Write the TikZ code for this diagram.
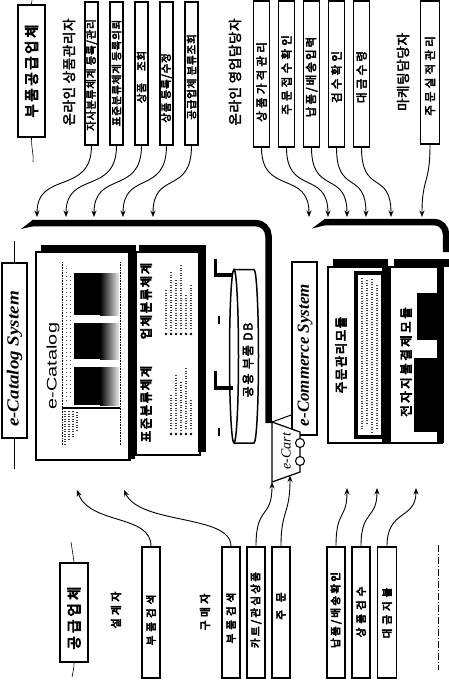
\documentclass[tikz,border=0pt]{standalone}
\usepackage{fontspec}
\usepackage{graphicx}
\setmainfont{Liberation Serif}
\newfontfamily\kr{Noto Sans CJK KR}[FakeBold=3]
\newfontfamily\krm{Noto Sans CJK KR}[FakeBold=4]
\newfontfamily\krb{Noto Sans CJK KR}[FakeBold=5.5]
\newfontfamily\arialf{Liberation Sans}
\usetikzlibrary{arrows.meta}
\newcommand\KS[2]{\fontsize{#1}{#1}\selectfont\addfontfeature{LetterSpace=#2}}
\tikzset{
  tb/.style={draw, line width=1.2pt, fill=white, inner sep=0pt},
  tbk/.style={draw, line width=1.8pt, fill=white, inner sep=0pt},
  lb/.style={draw, line width=2.4pt, fill=white, inner sep=0pt},
  vt/.style={rotate=90, inner sep=0pt},
  arr/.style={line width=0.9pt, -{Stealth[length=6.5pt,width=5pt]}},
  barline/.style={line width=6.5pt, rounded corners=13pt},
  thinl/.style={line width=0.6pt},
  dtx/.style={line width=1.2pt, dash pattern=on 1.2pt off 1.3pt, black!75},
  dts/.style={line width=1pt, dash pattern=on 1pt off 3pt, black!65},
  toptxt/.style={vt, font=\krm\KS{10.5}{8}},
  rtxt/.style={vt, font=\krm\KS{11.5}{28}},
  btxt/.style={vt, font=\krb\KS{10.5}{38}},
  grp/.style={vt, font=\kr\KS{13.5}{5}},
  ptl/.style={vt, font=\krb\KS{12.5}{12}},
}
\begin{document}
\begin{tikzpicture}[x=1pt,y=-1pt]
\useasboundingbox (0,0) rectangle (449,686);
\fill[white] (0,0) rectangle (449,686);

%================ top left: suppliers ================
\node[lb, minimum width=27pt, minimum height=132pt] (sup) at (31.5,71) {};
\node[vt, font=\krb\KS{14.5}{18}] (supt) at (31.5,71) {부품공급업체};
\draw[thinl] (sup.north) -- (32,0);
\draw[thinl] (sup.south) .. controls (31.5,150) and (34,155) .. (33,162);

\node[grp] (g1) at (69,72) {온라인 상품관리자};

\node[tb, minimum width=13pt, minimum height=143pt] (tl1) at (91.5,73.5) {};
\node[toptxt] (tl1t) at (91.5,75) {자사분류체계 등록/관리};
\node[tb, minimum width=13pt, minimum height=143pt] (tl2) at (116.5,73.5) {};
\node[toptxt] (tl2t) at (116.5,73) {표준분류체계 등록의뢰};
\node[tb, minimum width=13pt, minimum height=143pt] (tl3) at (141.5,73.5) {};
\node[toptxt] (tl3t) at (141.5,77) {상품\hspace{12pt}조회};
\node[tb, minimum width=13pt, minimum height=143pt] (tl4) at (166.5,73.5) {};
\node[toptxt] (tl4t) at (166.5,88) {상품 등록/수정};
\node[tb, minimum width=13pt, minimum height=143pt] (tl5) at (191.5,73.5) {};
\node[toptxt] (tl5t) at (191.5,77) {공급업체 분류조회};

\coordinate (a1) at (37,217);
\coordinate (a2) at (66,217);
\coordinate (a3) at (94,217);
\coordinate (a4) at (123,217);
\coordinate (a5) at (153,217);
\draw[arr] (tl1.south) .. controls +(0,50) and +(0,-47) .. (a1);
\draw[arr] (tl2.south) .. controls +(0,50) and +(0,-47) .. (a2);
\draw[arr] (tl3.south) .. controls +(0,50) and +(0,-47) .. (a3);
\draw[arr] (tl4.south) .. controls +(0,50) and +(0,-47) .. (a4);
\draw[arr] (tl5.south) .. controls +(0,50) and +(0,-47) .. (a5);

%================ top right: sales / marketing ================
\node[grp] (g2) at (235,72) {온라인 영업담당자};

\node[tb, minimum width=16pt, minimum height=146pt] (tr1) at (261.5,74) {};
\node[rtxt] (tr1t) at (261.5,82) {상품가격관리};
\node[tb, minimum width=16pt, minimum height=146pt] (tr2) at (286.5,74) {};
\node[rtxt] (tr2t) at (286.5,75) {주문접수확인};
\node[tb, minimum width=16pt, minimum height=146pt] (tr3) at (311.5,74) {};
\node[rtxt, font=\krm\KS{11.5}{18}] (tr3t) at (311.5,77) {납품/배송입력};
\node[tb, minimum width=16pt, minimum height=146pt] (tr4) at (336.5,74) {};
\node[rtxt] (tr4t) at (336.5,77) {검수확인};
\node[tb, minimum width=16pt, minimum height=146pt] (tr5) at (361.5,74) {};
\node[rtxt] (tr5t) at (361.5,77) {대금수령};

\node[grp] (g3) at (403,72) {마케팅담당자};
\node[tbk, minimum width=19pt, minimum height=143pt] (tr6) at (430,72.5) {};
\node[rtxt] (tr6t) at (430,76) {주문실적관리};

\coordinate (b1) at (309,217);
\coordinate (b2) at (328,217);
\coordinate (b3) at (347,217);
\coordinate (b4) at (366,217);
\coordinate (b5) at (391,217);
\coordinate (b6) at (422,217);
\draw[arr] (tr1.south) .. controls +(0,48) and +(0,-47) .. (b1);
\draw[arr] (tr2.south) .. controls +(0,48) and +(0,-47) .. (b2);
\draw[arr] (tr3.south) .. controls +(0,48) and +(0,-47) .. (b3);
\draw[arr] (tr4.south) .. controls +(0,48) and +(0,-47) .. (b4);
\draw[arr] (tr5.south) .. controls +(0,48) and +(0,-47) .. (b5);
\draw[arr] (tr6.south) .. controls +(0,40) and +(0,-40) .. (b6);

%================ group frames ================
\draw[barline] (32,223) -- (268.5,223) -- (268.5,423);
\fill (21,229) -- (33,219.75) -- (33,226.25) -- cycle;
\draw[barline, rounded corners=12pt] (324,222) -- (446,222) -- (446,252);
\fill (312,228.5) -- (325,218.75) -- (325,225.25) -- cycle;

%================ e-Catalog System ================
\node[lb, minimum width=25pt, minimum height=175pt] (ecs) at (14.5,350.5) {};
\node[vt, font=\bfseries\itshape\fontsize{17}{17}\selectfont] (ecst) at (14.5,359) {\scalebox{1.12}[1]{e-Catalog System}};
\draw[thinl] (ecs.north) -- ++(0,-21);
\draw[thinl] (ecs.south) -- ++(0,30);

% panel 1 : e-Catalog screen
\fill (41,244.5) rectangle (136,252.5);
\node[draw, line width=1.3pt, fill=white, minimum width=94pt, minimum height=208pt, inner sep=0pt] (p1) at (83,356) {};
\fill (128,250) rectangle (135,459);
\node[vt, font=\arialf\fontsize{14}{14}\selectfont] (p1t) at (53,366) {\scalebox{1.42}[1]{e-Catalog}};
\draw[line width=0.6pt, densely dotted] (62,262) -- (62,445);
\draw[line width=0.6pt, densely dotted] (120,262) -- (120,445);
\foreach \ya/\yb in {273/315, 323/359, 367/405}{
  \fill (74,\ya) rectangle (100,\yb);
  \shade[left color=black, right color=black!8] (100,\ya) rectangle (119,\yb);
}
\draw[dts] (66,268) -- (66,402);
\draw[dts] (70,276) -- (70,398);
\draw[line width=1.8pt] (62,408) -- (120,408);
\draw[dtx] (65,411) -- (65,444);
\draw[dtx] (69,411) -- (69,441);
\draw[dtx] (73,411) -- (73,437);
\draw[dtx] (77,412) -- (77,430);

% panel 2 : classification
\fill (139,244.5) rectangle (206,252.5);
\node[draw, line width=1.3pt, fill=white, minimum width=64pt, minimum height=203pt, inner sep=0pt] (p2) at (168,353.5) {};
\fill (198,246) rectangle (206,452);
\node[ptl] (p2a) at (146,301) {업체분류체계};
\node[ptl] (p2b) at (146,404) {표준분류체계};
\foreach \x/\ya in {166/290, 171/272, 176/280, 181/265, 186/295, 191/285}{
  \draw[dtx] (\x,\ya) -- (\x,330);
  \fill (\x,334) circle (1.4pt);
}
\foreach \x/\ya in {171/395, 176/375, 181/382, 186/368, 191/400}{
  \draw[dtx] (\x,\ya) -- (\x,430);
  \fill (\x,434) circle (1.4pt);
}

% DB cylinder
\draw[line width=1.5pt, fill=white] (234,269.5) -- (254,269.5)
   arc[start angle=-90, end angle=90, x radius=4.5, y radius=86.75] -- (234,443);
\draw[line width=1.5pt, fill=white] (234,356.25) ellipse [x radius=4.5, y radius=86.75];
\node[vt, font=\krm\KS{12}{15}] (dbt) at (248,360) {공용 부품 DB};
\draw[line width=3.5pt] (215.5,259) -- (215.5,275) -- (233,275);
\draw[line width=3.5pt] (215.5,371) -- (215.5,388) -- (233,388);
\draw[line width=2.5pt] (219,316) -- (219,324);
\draw[line width=2.5pt] (219,428) -- (219,436);

%================ e-Commerce System ================
\node[draw, line width=1.5pt, fill=white, minimum width=25pt, minimum height=173pt, inner sep=0pt] (ecm) at (304.5,348.5) {};
\node[vt, font=\bfseries\itshape\fontsize{17}{17}\selectfont] (ecmt) at (305,355) {e-Commerce System};

% panel A : order management
\fill (333,258.5) rectangle (388,267);
\node[draw, line width=1.3pt, fill=white, minimum width=60pt, minimum height=176pt, inner sep=0pt] (pa) at (358,355) {};
\fill (382,262) rectangle (388,443);
\draw[line width=4pt] (356,273) rectangle (383,437);
\node[ptl] (pat) at (341,355) {주문관리모듈};
\foreach \x/\ya/\yb in {362/278/430, 367/280/425, 372/279/432, 377/285/428}{
  \draw[dtx] (\x,\ya) -- (\x,\yb);
}

% panel B : payment
\fill (394,258.5) rectangle (449,267);
\node[draw, line width=1.3pt, fill=white, minimum width=52pt, minimum height=176pt, inner sep=0pt] (pb) at (416,355) {};
\fill (437,262) rectangle (444,443);
\fill (417,293) rectangle (437,340);
\fill (414,358) rectangle (440,432);
\node[vt, font=\krb\KS{12.5}{20}] (pbt) at (406,362) {전자지불결제모듈};

% e-Cart
\draw[line width=1.2pt, fill=white] (272,422) -- (300,432) -- (300,472) -- (272,482) -- cycle;
\coordinate (cartTL) at (272,422);
\coordinate (cartBL) at (272,482);
\coordinate (cartB) at (290,475.5);
\draw[line width=1.1pt, fill=white] (300,443) circle (4.5pt);
\draw[line width=1.1pt, fill=white] (300,461) circle (4.5pt);
\node[vt, font=\itshape\fontsize{14}{14}\selectfont] (cartt) at (286,451) {e-Cart};
\draw[line width=1pt] (cartTL) -- (ecm.south west |- 0,415);

%================ bottom: buyers ================
\node[lb, minimum width=28pt, minimum height=99pt] (buy) at (74,612.5) {};
\node[vt, font=\krb\KS{14.5}{22}] (buyt) at (74,618) {공급업체};
\draw[thinl] (buy.north) -- ++(-3,-20);
\draw[thinl] (buy.south) .. controls +(0,6) and +(1,-6) .. ++(-2,14);

\node[vt, font=\krb\KS{11}{30}] (des) at (116,610) {설계자};
\node[vt, font=\krb\KS{11}{30}] (pur) at (205,612) {구매자};

\node[tbk, minimum width=18pt, minimum height=131pt] (bd) at (151,612.5) {};
\node[btxt] (bdt) at (151,620) {부품검색};
\node[tbk, minimum width=18pt, minimum height=131pt] (bb1) at (231,612.5) {};
\node[btxt] (bb1t) at (231,618) {부품검색};
\node[tbk, minimum width=18pt, minimum height=131pt] (bb2) at (256,612.5) {};
\node[btxt, font=\krb\KS{10.5}{22}] (bb2t) at (256,610) {카트/관심상품};
\node[tbk, minimum width=18pt, minimum height=131pt] (bb3) at (281,612.5) {};
\node[btxt] (bb3t) at (281,606) {주\hspace{8pt}문};
\node[tbk, minimum width=18pt, minimum height=131pt] (bb4) at (336,612.5) {};
\node[btxt, font=\krb\KS{10.5}{22}] (bb4t) at (336,610) {납품/배송확인};
\node[tbk, minimum width=18pt, minimum height=131pt] (bb5) at (361,612.5) {};
\node[btxt] (bb5t) at (361,612) {상품검수};
\node[tbk, minimum width=19pt, minimum height=131pt] (bb6) at (387,612.5) {};
\node[btxt] (bb6t) at (387,613) {대금지불};

\draw[line width=0.7pt, dash pattern=on 7pt off 2pt on 1pt off 2pt] (438,545) -- (438,670);

\coordinate (d1) at (77,490);
\coordinate (d2) at (124,490);
\coordinate (d3) at (347,488);
\coordinate (d4) at (377,488);
\coordinate (d5) at (416,488);
\draw[arr] (bd.north) .. controls +(0,-32) and (90,525) .. (d1);
\draw[arr] (bb1.north) .. controls +(0,-32) and (140,525) .. (d2);
\draw[arr] (bb2.north) .. controls +(0,-42) and +(0,38) .. (cartBL);
\draw[arr] (bb3.north) .. controls +(0,-37) and +(0,40) .. (cartB);
\draw[arr] (bb4.north) .. controls +(0,-37) and +(0,32) .. (d3);
\draw[arr] (bb5.north) .. controls +(0,-37) and +(0,32) .. (d4);
\draw[arr] (bb6.north) .. controls +(0,-37) and +(0,32) .. (d5);
\end{tikzpicture}
\end{document}
